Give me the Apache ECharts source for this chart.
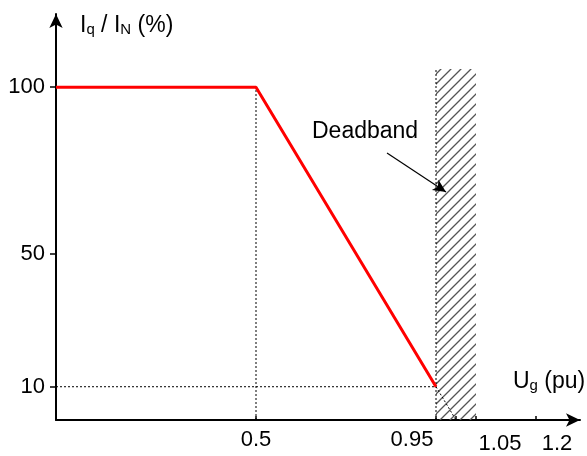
<!DOCTYPE html>
<html><head><meta charset="utf-8">
<script src="https://cdn.jsdelivr.net/npm/echarts@6/dist/echarts.min.js"></script>
<style>html,body{margin:0;padding:0;background:#fff}#c{width:587px;height:456px}</style>
</head><body><div id="c"></div>
<script>
// ---- data ----
const curveX = [0, 0.5, 0.95];
const curveY = [100, 100, 10];
const extensionX = [0.95, 1.0];
const extensionY = [10, 0];
const xTickValues = [0.5, 0.95, 1.0, 1.05, 1.2];
const xLabelValues = [0.5, 0.95, 1.05, 1.2];
const yTickValues = [10, 50, 100];
const deadbandX = [0.95, 1.05];
const deadbandTop = 105.5;
const arrowFrom = [0.8275, 80.2];
const arrowTo = [0.975, 68.5];

const FONT = 'Liberation Sans, Arial, sans-serif';

// hatch pattern
const pc = document.createElement('canvas');
pc.width = 10; pc.height = 10;
const g = pc.getContext('2d');
g.strokeStyle = '#555'; g.lineWidth = 1.3;
g.beginPath();
g.moveTo(-1, 11); g.lineTo(11, -1);
g.moveTo(-1, 1); g.lineTo(1, -1);
g.moveTo(9, 11); g.lineTo(11, 9);
g.stroke();

const chart = echarts.init(document.getElementById('c'), null, {renderer: 'canvas'});
const dotted = {color: '#000', width: 1, type: [2, 2]};

chart.setOption({
  animation: false,
  backgroundColor: '#fff',
  grid: {left: 56, top: 14, width: 524, height: 406},
  xAxis: {
    type: 'value', min: 0, max: 1.31,
    axisLine: {lineStyle: {color: '#000', width: 2}, symbol: ['none', 'arrow'], symbolSize: [10, 14]},
    axisTick: {show: true, inside: true, length: 4, customValues: xTickValues, lineStyle: {color: '#000', width: 1.5}},
    axisLabel: {
      customValues: xLabelValues, margin: 9, color: '#000', fontSize: 22, fontFamily: FONT,
      formatter: v => {
        const s = String(v);
        if (s === '0.95') return '{l|0.95}';
        if (s === '1.05') return '{r|1.05}';
        if (s === '1.2') return '{r2|1.2}';
        return '{n|' + s + '}';
      },
      rich: {
        n: {fontSize: 22, fontFamily: FONT, color: '#000'},
        l: {fontSize: 22, fontFamily: FONT, color: '#000', padding: [0, 48, 0, 0]},
        r: {fontSize: 22, fontFamily: FONT, color: '#000', padding: [4, 0, 0, 48]},
        r2: {fontSize: 22, fontFamily: FONT, color: '#000', padding: [4, 0, 0, 42]}
      }
    },
    splitLine: {show: false}
  },
  yAxis: {
    type: 'value', min: 0, max: 122,
    axisLine: {show: true, lineStyle: {color: '#000', width: 2}, symbol: ['none', 'arrow'], symbolSize: [10, 14]},
    axisTick: {show: true, length: 6, customValues: yTickValues, lineStyle: {color: '#000', width: 1.5}},
    axisLabel: {customValues: yTickValues, margin: 11, color: '#000', fontSize: 22, fontFamily: FONT},
    splitLine: {show: false}
  },
  graphic: [
    {type: 'text', left: 80, top: 14, style: {
      text: '{m|I}{s|q}{m| / I}{s|N}{m| (%)}',
      rich: {
        m: {fontSize: 23, fontFamily: FONT, fill: '#000', lineHeight: 24},
        s: {fontSize: 15, fontFamily: FONT, fill: '#000', lineHeight: 24, padding: [8, 0, 0, 0]}
      }
    }},
    {type: 'text', left: 513, top: 370, style: {
      text: '{m|U}{s|g}{m| (pu)}',
      rich: {
        m: {fontSize: 23, fontFamily: FONT, fill: '#000', lineHeight: 24},
        s: {fontSize: 15, fontFamily: FONT, fill: '#000', lineHeight: 24, padding: [8, 0, 0, 0]}
      }
    }},
    {type: 'text', left: 312, top: 120, style: {text: 'Deadband', fontSize: 23, fontFamily: FONT, fill: '#000'}}
  ],
  series: [
    {
      type: 'custom', silent: true, z: 1,
      data: [[deadbandX[0], deadbandTop]],
      encode: {x: 0, y: 1},
      renderItem: (params, api) => {
        const p0 = api.coord([deadbandX[0], 0]);
        const p1 = api.coord([deadbandX[1], deadbandTop]);
        return {type: 'rect', shape: {x: p0[0], y: p1[1], width: p1[0] - p0[0], height: p0[1] - p1[1]},
          style: {fill: {image: pc, repeat: 'repeat'}, stroke: null}};
      }
    },
    {type: 'line', z: 2, symbol: 'none', lineStyle: dotted, data: [[curveX[1], 0], [curveX[1], curveY[1]]]},
    {type: 'line', z: 2, symbol: 'none', lineStyle: dotted, data: [[0, curveY[2]], [curveX[2], curveY[2]]]},
    {type: 'line', z: 2, symbol: 'none', lineStyle: dotted, data: [[deadbandX[0], 0], [deadbandX[0], deadbandTop]]},
    {type: 'line', z: 2, symbol: 'none', lineStyle: dotted, data: extensionX.map((x, i) => [x, extensionY[i]])},
    {type: 'line', z: 3, symbol: 'none', lineStyle: {color: '#ff0000', width: 3}, data: curveX.map((x, i) => [x, curveY[i]]),
      markLine: {
        silent: true, symbol: ['none', 'arrow'], symbolSize: [9, 13], label: {show: false},
        lineStyle: {color: '#000', width: 1.2, type: 'solid'},
        data: [[{coord: arrowFrom}, {coord: arrowTo}]]
      }
    }
  ]
});
</script>
</body></html>
